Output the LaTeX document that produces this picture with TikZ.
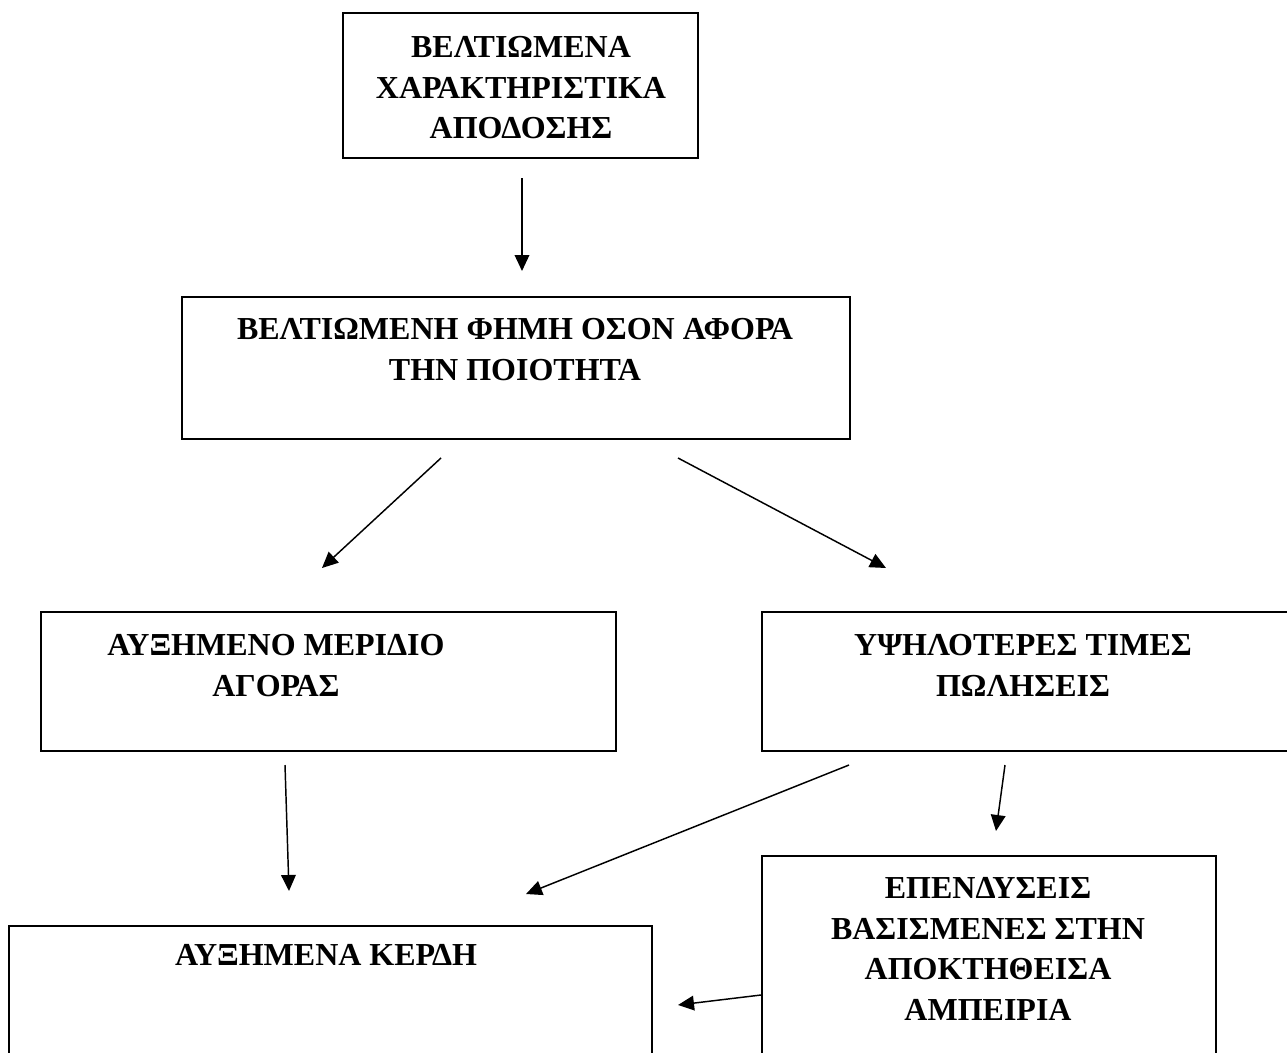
\documentclass[tikz,border=0pt]{standalone}
\usepackage{fontspec}
\setmainfont{Liberation Serif}
\usetikzlibrary{arrows.meta}
\begin{document}
\begin{tikzpicture}[x=0.75pt,y=-0.75pt,
  box/.style 2 args={draw, line width=1.5pt, inner sep=0pt, anchor=north west,
    minimum width={#1*0.75pt}, minimum height={#2*0.75pt}},
  lbl/.style={anchor=north, inner sep=0pt, align=center,
    font=\fontsize{24pt}{30.5pt}\selectfont\bfseries},
  arr/.style={line width=1.1pt, -{Triangle[length=12pt,width=11pt]}}]
\clip (0,0) rectangle (1287,1052);
\fill[white] (0,0) rectangle (1287,1052);
% boxes
\node[box={355}{145}] (b1) at (342,12) {};
\node[box={668}{142}] (b2) at (181,296) {};
\node[box={575}{139}] (b3) at (40,611) {};
\node[box={560}{139}] (b4) at (761,611) {};
\node[box={643}{220}] (b5) at (8,925) {};
\node[box={454}{260}] (b6) at (761,855) {};
% labels
\node[lbl] (t1) at (521,36) {ΒΕΛΤΙΩΜΕΝΑ\\ΧΑΡΑΚΤΗΡΙΣΤΙΚΑ\\ΑΠΟΔΟΣΗΣ};
\node[lbl] (t2) at (515,318) {ΒΕΛΤΙΩΜΕΝΗ ΦΗΜΗ ΟΣΟΝ ΑΦΟΡΑ\\ΤΗΝ ΠΟΙΟΤΗΤΑ};
\node[lbl] (t3) at (276,634) {ΑΥΞΗΜΕΝΟ ΜΕΡΙΔΙΟ\\ΑΓΟΡΑΣ};
\node[lbl] (t4) at (1023,634) {ΥΨΗΛΟΤΕΡΕΣ ΤΙΜΕΣ\\ΠΩΛΗΣΕΙΣ};
\node[lbl] (t5) at (326,944) {ΑΥΞΗΜΕΝΑ ΚΕΡΔΗ};
\node[lbl] (t6) at (988,877) {ΕΠΕΝΔΥΣΕΙΣ\\ΒΑΣΙΣΜΕΝΕΣ ΣΤΗΝ\\ΑΠΟΚΤΗΘΕΙΣΑ\\ΑΜΠΕΙΡΙΑ};
% connector ends
\coordinate (a1s) at (522,178); \coordinate (a1e) at (522,271);
\coordinate (a2s) at (441,458); \coordinate (a2e) at (322,568);
\coordinate (a3s) at (678,458); \coordinate (a3e) at (886,568);
\coordinate (a4s) at (285,765); \coordinate (a4e) at (289,891);
\coordinate (a5s) at (849,765); \coordinate (a5e) at (526,894);
\coordinate (a6s) at (1005,765); \coordinate (a6e) at (996,831);
\coordinate (a7s) at (761,995); \coordinate (a7e) at (678,1005);
\draw[arr] (a1s) -- (a1e);
\draw[arr] (a2s) -- (a2e);
\draw[arr] (a3s) -- (a3e);
\draw[arr] (a4s) -- (a4e);
\draw[arr] (a5s) -- (a5e);
\draw[arr] (a6s) -- (a6e);
\draw[arr] (a7s) -- (a7e);
\end{tikzpicture}
\end{document}
